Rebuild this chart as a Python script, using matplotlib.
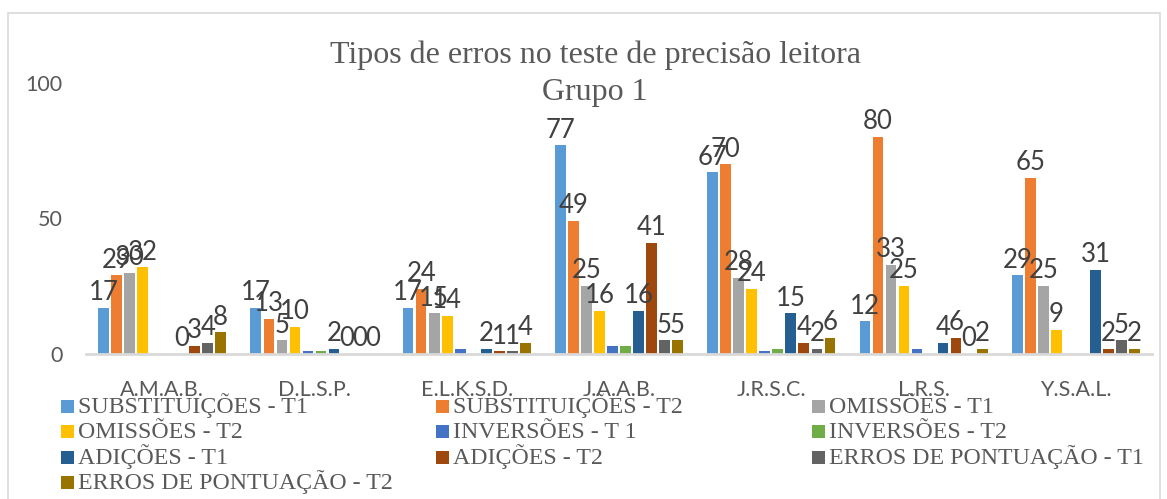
import matplotlib as mpl
mpl.use('Agg')
import numpy as np
import matplotlib.pyplot as plt
from matplotlib.patches import Rectangle

nan = np.nan

# data
students = ["A.M.A.B.", "D.L.S.P.", "E.L.K.S.D.", "J.A.A.B.", "J.R.S.C.", "L.R.S.", "Y.S.A.L."]
series_names = ["SUBSTITUIÇÕES - T1", "SUBSTITUIÇÕES - T2", "OMISSÕES - T1", "OMISSÕES - T2",
                "INVERSÕES - T 1", "INVERSÕES - T2", "ADIÇÕES - T1", "ADIÇÕES - T2",
                "ERROS DE PONTUAÇÃO - T1", "ERROS DE PONTUAÇÃO - T2"]
subst_t1 = [17, 17, 17, 77, 67, 12, 29]
subst_t2 = [29, 13, 24, 49, 70, 80, 65]
omiss_t1 = [30, 5, 15, 25, 28, 33, 25]
omiss_t2 = [32, 10, 14, 16, 24, 25, 9]
inv_t1 = [nan, 1, 2, 3, 1, 2, nan]
inv_t2 = [nan, 1, nan, 3, 2, nan, nan]
adic_t1 = [0, 2, 2, 16, 15, 4, 31]
adic_t2 = [3, 0, 1, 41, 4, 6, 2]
pont_t1 = [4, 0, 1, 5, 2, 0, 5]
pont_t2 = [8, 0, 4, 5, 6, 2, 2]
series_values = [subst_t1, subst_t2, omiss_t1, omiss_t2, inv_t1, inv_t2,
                 adic_t1, adic_t2, pont_t1, pont_t2]
show_labels = [True, True, True, True, False, False, True, True, True, True]

colors = ["#5B9BD5", "#ED7D31", "#A5A5A5", "#FFC000", "#4472C4", "#70AD47",
          "#255E91", "#9E480E", "#636363", "#997300"]

W, H = 1167, 499
fig = plt.figure(figsize=(W / 100, H / 100), dpi=100)
fig.patch.set_facecolor('white')

# outer chart border
fig.add_artist(Rectangle((8 / W, -0.01), (1160 - 8) / W, (H - 13) / H + 0.01,
                         transform=fig.transFigure, fill=False, edgecolor='#D9D9D9', lw=1.2))

ax = fig.add_axes([86 / W, 1 - 354 / H, (1152 - 86) / W, (354 - 83) / H])

n = len(series_values)
x = np.arange(len(students))
pitch = 0.0855
bw = pitch * 0.82
for i, vals in enumerate(series_values):
    pos = x - pitch * (n - 1) / 2 + i * pitch
    bars = ax.bar(pos, vals, width=bw, color=colors[i], label=series_names[i])
    if show_labels[i]:
        labs = ['' if np.isnan(v) else str(int(v)) for v in np.asarray(vals, float)]
        ax.bar_label(bars, labels=labs, padding=2, fontsize=18.5, color='#404040',
                     family='Lato')

ax.set_xlim(-0.5, len(students) - 0.5)
ax.set_ylim(0, 100)
ax.set_yticks([0, 50, 100])
ax.set_xticks(x)
ax.set_xticklabels(students)
for s in ['top', 'right', 'left']:
    ax.spines[s].set_visible(False)
ax.spines['bottom'].set_color('#D9D9D9')
ax.spines['bottom'].set_linewidth(2)
ax.tick_params(axis='both', length=0, labelsize=15.5, labelcolor='#595959')
ax.tick_params(axis='y', pad=17)
ax.tick_params(axis='x', pad=19)
for t in ax.get_xticklabels() + ax.get_yticklabels():
    t.set_family('Lato')

fig.text(595 / W, 1 - 63 / H, "Tipos de erros no teste de precisão leitora",
         ha='center', va='baseline', fontsize=23, family='Liberation Serif', color='#595959')
fig.text(595 / W, 1 - 100 / H, "Grupo 1",
         ha='center', va='baseline', fontsize=23, family='Liberation Serif', color='#595959')

# legend laid out row by row in three equal columns, as Excel does
col_x = [61, 436, 812]
row_base = 413
row_step = 25.3
sq = 13
for k in range(n):
    r, c = divmod(k, 3)
    yb = row_base + r * row_step
    fig.add_artist(Rectangle((col_x[c] / W, 1 - yb / H), sq / W, sq / H,
                             transform=fig.transFigure, facecolor=colors[k], edgecolor='none'))
    fig.text((col_x[c] + sq + 4) / W, 1 - yb / H, series_names[k], ha='left', va='baseline',
             fontsize=17.2, family='Liberation Serif', color='#595959')

fig.savefig('out.png', dpi=100)
plt.close(fig)
